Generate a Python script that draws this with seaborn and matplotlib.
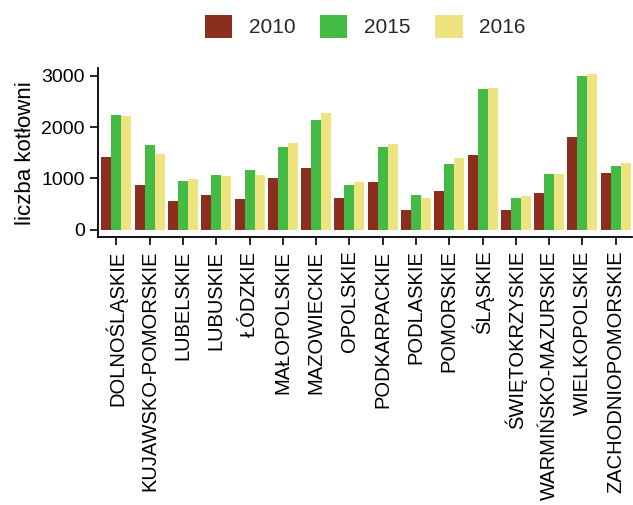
import matplotlib
matplotlib.use("Agg")
import matplotlib.pyplot as plt
import seaborn as sns
import pandas as pd

regions = ["DOLNOŚLĄSKIE","KUJAWSKO-POMORSKIE","LUBELSKIE","LUBUSKIE","ŁÓDZKIE","MAŁOPOLSKIE",
           "MAZOWIECKIE","OPOLSKIE","PODKARPACKIE","PODLASKIE","POMORSKIE","ŚLĄSKIE",
           "ŚWIĘTOKRZYSKIE","WARMIŃSKO-MAZURSKIE","WIELKOPOLSKIE","ZACHODNIOPOMORSKIE"]
v2010 = [1418,863,556,673,601,1000,1196,621,928,379,758,1464,386,719,1817,1105]
v2015 = [2229,1647,948,1072,1170,1614,2144,863,1614,673,1288,2745,627,1078,3007,1248]
v2016 = [2209,1484,993,1039,1072,1693,2275,928,1673,614,1392,2765,647,1078,3033,1307]
years = ["2010","2015","2016"]

rows = []
for y, vals in zip(years, [v2010, v2015, v2016]):
    for r, v in zip(regions, vals):
        rows.append({"region": r, "rok": y, "value": v})
df = pd.DataFrame(rows)

sns.set_theme(style="ticks")
plt.rcParams['font.family'] = ['Liberation Sans', 'DejaVu Sans']
fig, ax = plt.subplots(figsize=(6.33, 5.05), dpi=100)
sns.barplot(data=df, x="region", y="value", hue="rok", ax=ax,
            palette=["#8B2E1E", "#44BB44", "#EEE47F"], width=0.9, saturation=1, linewidth=0)
ax.set_xlim(-0.55, 15.5)
ax.set_ylim(-150, 3150)
ax.set_yticks([0, 1000, 2000, 3000])
ax.set_xlabel("")
ax.set_ylabel("liczba kotłowni", fontsize=16, color='black')
ax.tick_params(axis='x', labelrotation=90, labelsize=14.5, colors='black', width=1.2)
ax.tick_params(axis='y', labelsize=14, colors='black', width=1.2)
for s in ["top", "right"]:
    ax.spines[s].set_visible(False)
ax.spines["left"].set_linewidth(1.3)
ax.spines["bottom"].set_linewidth(1.3)
ax.spines["left"].set_color('black')
ax.spines["bottom"].set_color('black')
leg = ax.legend(loc="lower center", bbox_to_anchor=(0.5, 1.07), ncol=3, frameon=False,
                fontsize=15, title=None, handlelength=1.3, handleheight=1.3, columnspacing=1.2)
fig.subplots_adjust(left=0.155, right=0.999, top=0.865, bottom=0.53)
fig.savefig("out.png", dpi=100)
